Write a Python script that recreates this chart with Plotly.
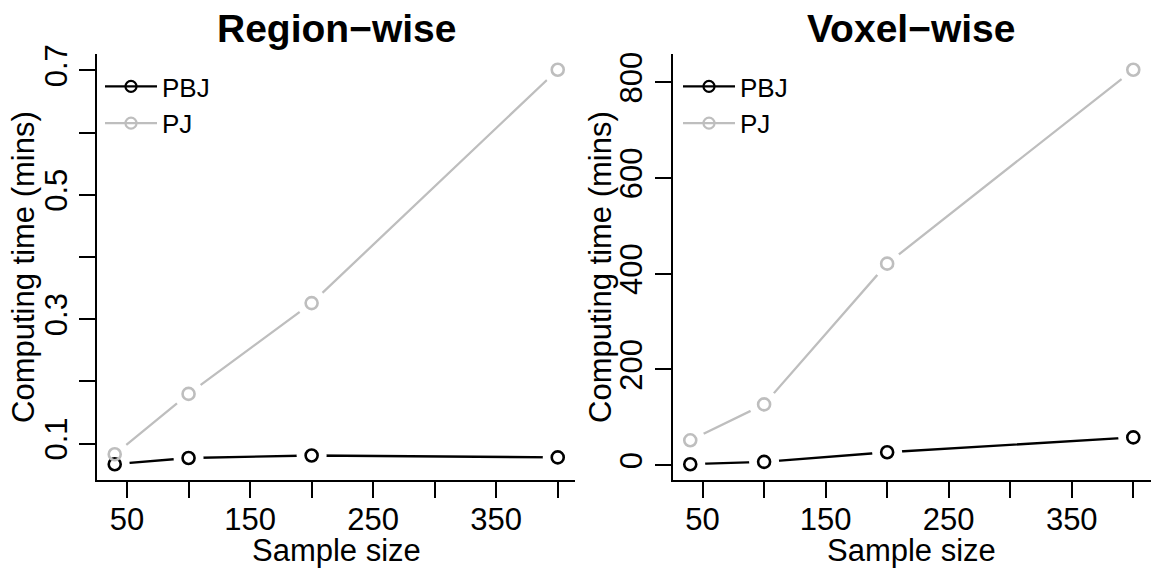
import plotly.graph_objects as go
from plotly.subplots import make_subplots

# ---- data ----
sample_size = [40, 100, 200, 400]
region_pbj = [0.067, 0.077, 0.081, 0.078]
region_pj = [0.083, 0.180, 0.326, 0.701]
voxel_pbj = [2, 7, 27, 58]
voxel_pj = [52, 127, 421, 826]

x_tickvals = [50, 100, 150, 200, 250, 300, 350, 400]
x_ticktext = ["50", "", "150", "", "250", "", "350", ""]
region_tickvals = [0.1, 0.2, 0.3, 0.4, 0.5, 0.6, 0.7]
region_ticktext = ["0.1", "", "0.3", "", "0.5", "", "0.7"]
voxel_tickvals = [0, 200, 400, 600, 800]
voxel_ticktext = ["0", "200", "400", "600", "800"]

titles = ["Region\u2212wise", "Voxel\u2212wise"]
series_names = ["PBJ", "PJ"]
series_colors = ["#000000", "#BEBEBE"]

FONT = "Liberation Sans, Arial, Helvetica, sans-serif"


def r_range(vals):
    lo, hi = min(vals), max(vals)
    d = (hi - lo) * 0.04
    return [lo - d, hi + d]


fig = make_subplots(rows=1, cols=2, horizontal_spacing=0.0921)

panels = [
    (1, [region_pbj, region_pj], "legend"),
    (2, [voxel_pbj, voxel_pj], "legend2"),
]

for col, series, leg in panels:
    # lines (with legend entries)
    for name, vals, color in zip(series_names, series, series_colors):
        fig.add_trace(go.Scatter(
            x=sample_size, y=vals, name=name, mode="lines+markers",
            line=dict(color=color, width=2.3),
            marker=dict(symbol="circle-open", size=11, color=color,
                        line=dict(width=2.2, color=color)),
            legend=leg, showlegend=True, hoverinfo="skip"), row=1, col=col)
    # white gaps around points (R type="b")
    for name, vals, color in zip(series_names, series, series_colors):
        fig.add_trace(go.Scatter(
            x=sample_size, y=vals, mode="markers",
            marker=dict(symbol="circle", size=30, color="white",
                        line=dict(width=0)),
            showlegend=False, hoverinfo="skip"), row=1, col=col)
    # open circles
    for name, vals, color in zip(series_names, series, series_colors):
        fig.add_trace(go.Scatter(
            x=sample_size, y=vals, mode="markers",
            marker=dict(symbol="circle-open", size=12, color=color,
                        line=dict(width=2.6, color=color)),
            showlegend=False), row=1, col=col)

axis_common = dict(
    showline=True, linecolor="black", linewidth=2, mirror=False,
    ticks="outside", ticklen=16, tickwidth=2, tickcolor="black",
    showgrid=False, zeroline=False,
    tickfont=dict(family=FONT, size=31, color="black"),
)

xr = r_range(sample_size)
for col in (1, 2):
    fig.update_xaxes(range=xr, tickmode="array", tickvals=x_tickvals,
                     ticktext=x_ticktext, ticklabelstandoff=-5,
                     row=1, col=col, **axis_common)

fig.update_yaxes(range=r_range(region_pbj + region_pj), tickmode="array",
                 tickvals=region_tickvals, ticktext=region_ticktext,
                 tickangle=-90, row=1, col=1, **axis_common)
fig.update_yaxes(range=r_range(voxel_pbj + voxel_pj), tickmode="array",
                 tickvals=voxel_tickvals, ticktext=voxel_ticktext,
                 tickangle=-90, row=1, col=2, **axis_common)

L, T, B, W, H = 97, 54, 92, 1151, 572
PW = W - L
PH = H - T - B


def px(x):
    return (x - L) / PW


def py(y):
    return (H - B - y) / PH


annots = []
for cx, title in zip([336, 911], titles):
    annots.append(dict(text="<b>%s</b>" % title, x=px(cx), y=py(28),
                       xref="paper", yref="paper", showarrow=False,
                       xanchor="center", yanchor="middle",
                       font=dict(family=FONT, size=39, color="black")))
    annots.append(dict(text="Sample size", x=px(cx), y=py(550),
                       xref="paper", yref="paper", showarrow=False,
                       xanchor="center", yanchor="middle",
                       font=dict(family=FONT, size=31, color="black")))
for cx in [23, 600]:
    annots.append(dict(text="Computing time (mins)", x=px(cx), y=py(267),
                       xref="paper", yref="paper", showarrow=False,
                       textangle=-90, xanchor="center", yanchor="middle",
                       font=dict(family=FONT, size=31, color="black")))

leg_common = dict(
    font=dict(family=FONT, size=26, color="black"),
    bgcolor="rgba(0,0,0,0)", borderwidth=0,
    xanchor="left", yanchor="top", tracegroupgap=0, itemwidth=52,
)

fig.update_layout(
    width=W, height=H,
    margin=dict(l=L, r=0, t=T, b=B, pad=0),
    paper_bgcolor="white", plot_bgcolor="white",
    annotations=annots,
    legend=dict(x=px(100), y=py(63), **leg_common),
    legend2=dict(x=px(678), y=py(63), **leg_common),
    font=dict(family=FONT, color="black"),
)

fig.write_html("out.html")
